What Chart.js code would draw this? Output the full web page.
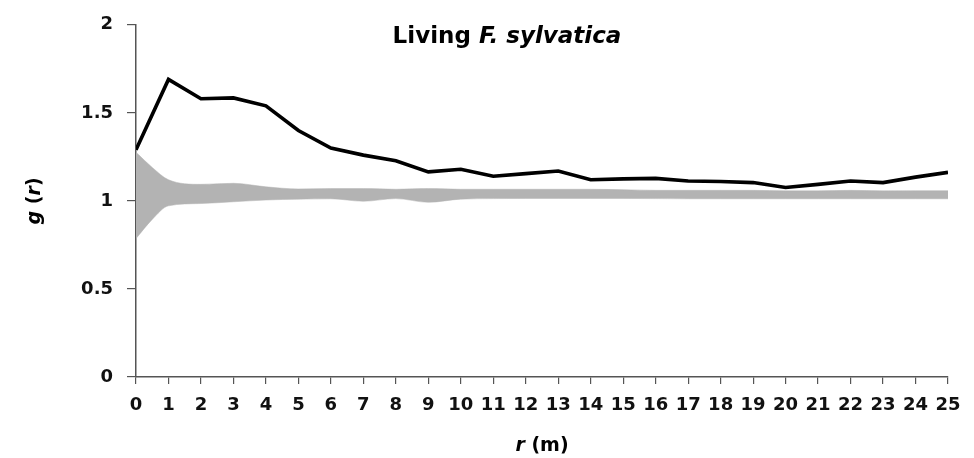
<!DOCTYPE html>
<html>
<head>
<meta charset="utf-8">
<script src="https://cdn.jsdelivr.net/npm/chart.js@4.4.0/dist/chart.umd.min.js"></script>
<style>
  html, body { margin: 0; padding: 0; background: #fff; }
  #wrap { width: 974px; height: 458px; }
</style>
</head>
<body>
<div id="wrap"><canvas id="gChart" width="974" height="458"></canvas></div>
<script>
// distance r (m) for the observed curve
const rObs = [0, 1, 2, 3, 4, 5, 6, 7, 8, 9, 10, 11, 12, 13, 14, 15, 16, 17, 18, 19, 20, 21, 22, 23, 24, 25];
const gLiving = [1.29, 1.69, 1.58, 1.585, 1.54, 1.40, 1.30, 1.26, 1.228, 1.165, 1.18, 1.14, 1.155, 1.17, 1.12, 1.125, 1.128, 1.113, 1.11, 1.104, 1.076, 1.094, 1.113, 1.104, 1.135, 1.162];

// simulation envelope (grey band)
const rEnv = [0, 0.5, 1, 2, 3, 4, 5, 6, 7, 8, 9, 10, 11, 12, 13, 14, 15, 16, 17, 18, 19, 20, 21, 22, 23, 24, 25];
const envUpper = [1.276, 1.19, 1.12, 1.094, 1.10, 1.08, 1.068, 1.07, 1.07, 1.066, 1.07, 1.066, 1.066, 1.066, 1.066, 1.066, 1.064, 1.06, 1.06, 1.06, 1.06, 1.057, 1.057, 1.06, 1.057, 1.058, 1.058];
const envLower = [0.786, 0.895, 0.972, 0.985, 0.995, 1.005, 1.01, 1.012, 0.998, 1.013, 0.992, 1.01, 1.013, 1.014, 1.014, 1.014, 1.014, 1.013, 1.012, 1.012, 1.012, 1.012, 1.012, 1.012, 1.012, 1.012, 1.012];

const xTicks = [0, 25, 1];      // min, max, step
const yTicks = [0, 2, 0.5];

const FONT = "'DejaVu Sans'";

function pts(xs, ys) {
  return xs.map(function(x, i) { return { x: x, y: ys[i] }; });
}

// titles with mixed italic parts
const textPlugin = {
  id: 'mixedText',
  afterDraw: function(chart) {
    const ctx = chart.ctx;
    function drawParts(parts, cx, cy, rot) {
      ctx.save();
      ctx.translate(cx, cy);
      if (rot) ctx.rotate(rot);
      let total = 0;
      parts.forEach(function(p) { ctx.font = p[1]; total += ctx.measureText(p[0]).width; });
      let x = -total / 2;
      ctx.fillStyle = '#000';
      ctx.textBaseline = 'middle';
      ctx.textAlign = 'left';
      parts.forEach(function(p) {
        ctx.font = p[1];
        ctx.fillText(p[0], x, 0);
        x += ctx.measureText(p[0]).width;
      });
      ctx.restore();
    }
    const a = chart.chartArea;
    drawParts([['Living ', 'bold 23px ' + FONT], ['F. sylvatica', 'italic bold 23px ' + FONT]], 507, 37, 0);
    drawParts([['r', 'italic bold 19px ' + FONT], [' (m)', 'bold 19px ' + FONT]], (a.left + a.right) / 2, 446, 0);
    drawParts([['g', 'italic bold 19px ' + FONT], [' (', 'bold 19px ' + FONT], ['r', 'italic bold 19px ' + FONT], [')', 'bold 19px ' + FONT]], 35, (a.top + a.bottom) / 2, -Math.PI / 2);
  }
};

new Chart(document.getElementById('gChart'), {
  type: 'line',
  data: {
    datasets: [
      {
        label: 'g(r) observed',
        data: pts(rObs, gLiving),
        borderColor: '#000',
        borderWidth: 3.6,
        pointRadius: 0,
        fill: false,
        tension: 0,
        order: 0
      },
      {
        label: 'envelope upper',
        data: pts(rEnv, envUpper),
        borderColor: '#b3b3b3',
        borderWidth: 0.5,
        backgroundColor: '#b3b3b3',
        pointRadius: 0,
        fill: '+1',
        cubicInterpolationMode: 'monotone',
        order: 1
      },
      {
        label: 'envelope lower',
        data: pts(rEnv, envLower),
        borderColor: '#b3b3b3',
        borderWidth: 0.5,
        pointRadius: 0,
        fill: false,
        cubicInterpolationMode: 'monotone',
        order: 2
      }
    ]
  },
  options: {
    responsive: false,
    animation: false,
    layout: { padding: { top: 20, right: 26, bottom: 0, left: 0 } },
    plugins: {
      legend: { display: false },
      tooltip: { enabled: false },
      title: { display: false }
    },
    scales: {
      x: {
        type: 'linear',
        min: xTicks[0],
        max: xTicks[1],
        afterFit: function(scale) { scale.height = 81; },
        ticks: {
          stepSize: xTicks[2],
          padding: 11,
          color: '#111',
          font: { family: FONT, size: 18, weight: 'bold' }
        },
        grid: { drawOnChartArea: false, drawTicks: true, tickLength: 7, color: '#555', lineWidth: 1.2 },
        border: { color: '#555', width: 1.5 }
      },
      y: {
        type: 'linear',
        min: yTicks[0],
        max: yTicks[1],
        afterFit: function(scale) { scale.width = 136; },
        ticks: {
          stepSize: yTicks[2],
          padding: 14,
          color: '#111',
          font: { family: FONT, size: 18, weight: 'bold' },
          callback: function(value) { return String(Number(value)); }
        },
        grid: { drawOnChartArea: false, drawTicks: true, tickLength: 9, color: '#555', lineWidth: 1.2 },
        border: { color: '#555', width: 1.5 }
      }
    }
  },
  plugins: [textPlugin]
});
</script>
</body>
</html>
